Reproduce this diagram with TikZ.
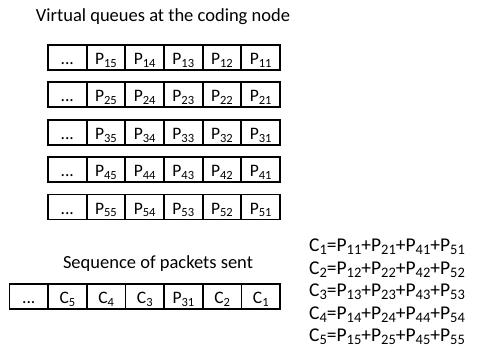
\documentclass[tikz,border=0pt]{standalone}
\usepackage{fontspec}
\setmainfont{Carlito}
\newcommand{\Sb}[1]{\raisebox{-0.35ex}{\fontsize{12.5}{13}\selectfont #1}}
\newcommand{\Se}[1]{\raisebox{-0.35ex}{\fontsize{14.5}{15}\selectfont #1}}
\tikzset{
  cell/.style={draw, line width=1.9pt, minimum width=38.67pt, minimum height=25pt, inner sep=0pt, font=\fontsize{17.5}{20}\selectfont, anchor=north west, text height=14pt, text depth=0pt},
  lbl/.style={font=\fontsize{18.5}{20}\selectfont, inner sep=0pt},
  eq/.style={font=\fontsize{19.5}{20}\selectfont, inner sep=0pt, anchor=west}
}
\begin{document}
\begin{tikzpicture}[x=1pt,y=-1pt]
\useasboundingbox (0,0) rectangle (478,352);
\node[lbl] (title) at (163,17) {Virtual queues at the coding node};
\foreach \r in {1,...,5}{
  \pgfmathsetmacro{\ytop}{44+(\r-1)*37.4}
  \node[cell] (q\r0) at (47,\ytop) {...};
  \foreach \c [evaluate=\c as \k using int(6-\c)] in {1,...,5}{
    \node[cell] (q\r\c) at ({47+\c*38.67},\ytop) {P\Sb{\r\k}};
  }
}
\node[lbl] (seqt) at (158,264) {Sequence of packets sent};
\node[cell] (s0) at (8.5,283) {...};
\node[cell] (s1) at (47.17,283) {C\Sb{5}};
\node[cell] (s2) at (85.84,283) {C\Sb{4}};
\node[cell] (s3) at (124.51,283) {C\Sb{3}};
\node[cell] (s4) at (163.18,283) {P\Sb{31}};
\node[cell] (s5) at (201.85,283) {C\Sb{2}};
\node[cell] (s6) at (240.52,283) {C\Sb{1}};
\foreach \i [evaluate=\i as \yy using 247+(\i-1)*22.5] in {1,...,5}{
  \node[eq] (e\i) at (309,\yy) {C\Se{\i}=P\Se{1\i}+P\Se{2\i}+P\Se{4\i}+P\Se{5\i}};
}
\end{tikzpicture}
\end{document}
